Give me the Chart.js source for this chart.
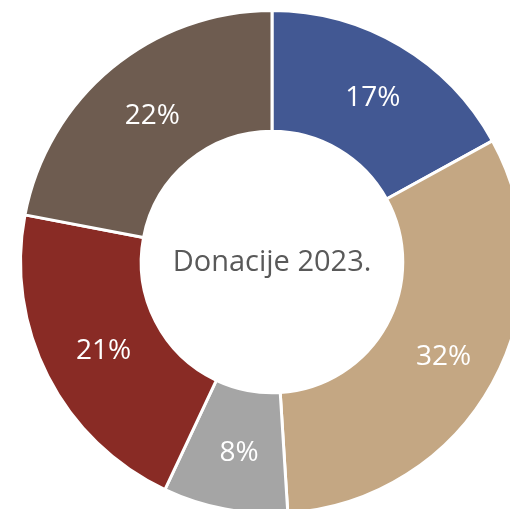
<!DOCTYPE html>
<html>
<head>
<meta charset="utf-8">
<script src="https://cdn.jsdelivr.net/npm/chart.js@4.4.0/dist/chart.umd.min.js"></script>
<style>
html,body{margin:0;padding:0;width:510px;height:509px;overflow:hidden;background:#fff;}
#wrap{position:absolute;left:12px;top:2px;width:520px;height:520px;}
</style>
</head>
<body>
<div id="wrap"><canvas id="c" width="520" height="520"></canvas></div>
<script>
const categories = ['Kategorija 1', 'Kategorija 2', 'Kategorija 3', 'Kategorija 4', 'Kategorija 5'];
const values = [17, 32, 8, 21, 22];
const colors = ['#425893', '#C4A783', '#A5A5A5', '#892B25', '#6E5C50'];
const centerTitle = 'Donacije 2023.';

const labelPlugin = {
  id: 'labels',
  afterDatasetsDraw(chart) {
    const ctx = chart.ctx;
    const meta = chart.getDatasetMeta(0);
    const total = values.reduce((a, b) => a + b, 0);
    ctx.save();
    ctx.fillStyle = '#ffffff';
    ctx.font = '28px "Open Sans"';
    ctx.textAlign = 'center';
    ctx.textBaseline = 'middle';
    meta.data.forEach((arc, i) => {
      const pr = arc.getProps(['x', 'y', 'startAngle', 'endAngle', 'innerRadius', 'outerRadius']);
      const mid = (pr.startAngle + pr.endAngle) / 2;
      const r = pr.innerRadius + 0.51 * (pr.outerRadius - pr.innerRadius);
      ctx.fillText(Math.round(values[i] / total * 100) + '%', pr.x + Math.cos(mid) * r + 3, pr.y + Math.sin(mid) * r + 2);
    });
    const a = chart.chartArea;
    ctx.fillStyle = '#595959';
    ctx.font = '29px "Open Sans"';
    ctx.fillText(centerTitle, (a.left + a.right) / 2, (a.top + a.bottom) / 2 + 1);
    ctx.restore();
  }
};

new Chart(document.getElementById('c'), {
  type: 'doughnut',
  data: {
    labels: categories,
    datasets: [{
      data: values,
      backgroundColor: colors,
      borderColor: '#ffffff',
      borderWidth: 3
    }]
  },
  options: {
    responsive: false,
    animation: false,
    cutout: '52%',
    layout: { padding: 7 },
    plugins: { legend: { display: false }, tooltip: { enabled: false } }
  },
  plugins: [labelPlugin]
});
</script>
</body>
</html>
